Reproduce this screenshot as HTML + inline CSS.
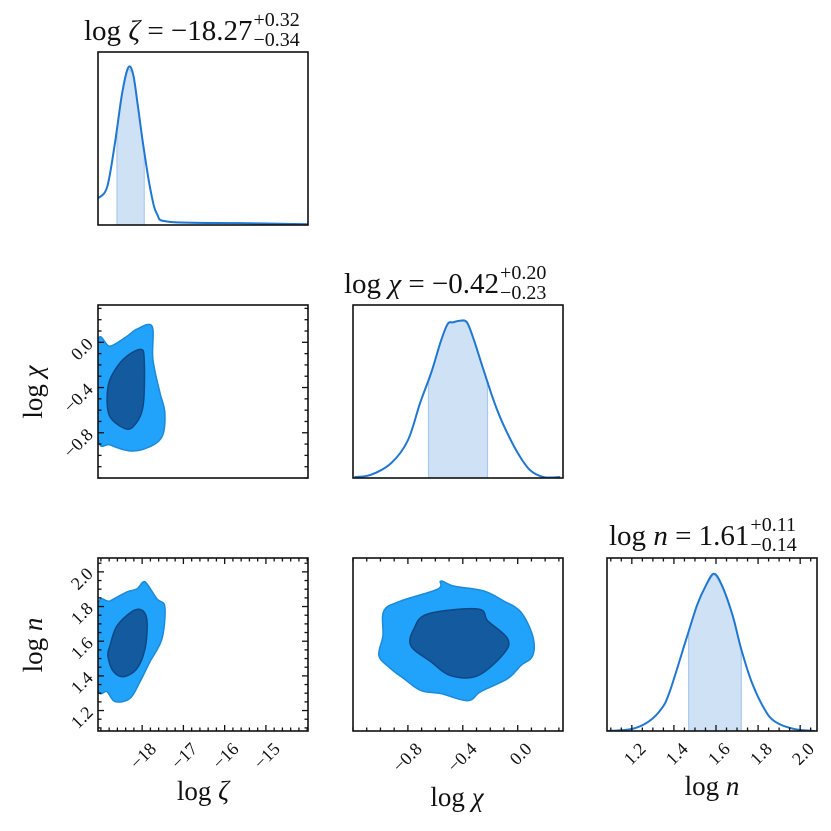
<!DOCTYPE html>
<html><head><meta charset="utf-8"><style>
html,body{margin:0;padding:0;background:#fff;}
svg{display:block;font-family:"Liberation Serif","DejaVu Serif",serif;}
</style></head><body>
<svg id="fig" width="831" height="831" viewBox="0 0 831 831" xmlns="http://www.w3.org/2000/svg"></svg>
<script>
// ---- data ----
const zetaGrid = [-19.07,-18.85,-18.66,-18.49,-18.34,-18.22,-18.10,-17.98,-17.81,-17.64,-17.33,-15.63,-13.98];
const zetaDens = [0.17,0.24,0.52,0.83,1.0,0.96,0.75,0.52,0.24,0.07,0.02,0.012,0.005];
const zetaCI = [-18.61,-17.95];
const chiGrid = [-1.19,-1.07,-0.92,-0.80,-0.71,-0.63,-0.56,-0.51,-0.47,-0.42,-0.37,-0.32,-0.25,-0.17,-0.10,0.0,0.09,0.19,0.31];
const chiDens = [0.006,0.02,0.096,0.24,0.48,0.67,0.87,0.98,0.99,1.0,0.99,0.88,0.69,0.48,0.33,0.16,0.05,0.006,0.006];
const chiCI = [-0.65,-0.22];
const nGrid = [1.08,1.2,1.28,1.34,1.38,1.46,1.51,1.55,1.59,1.63,1.68,1.72,1.77,1.83,1.88,1.97,2.07];
const nDens = [0.0,0.013,0.06,0.14,0.25,0.59,0.80,0.92,1.0,0.92,0.73,0.52,0.31,0.14,0.06,0.013,0.0];
const nCI = [1.47,1.72];
// contours (x values, y values)
const zcOuterX = [-19.07,-18.78,-18.37,-18.13,-17.76,-17.74,-17.57,-17.45,-17.52,-17.88,-18.30,-18.78,-19.07];
const zcOuterY = [0.0,-0.035,0.053,0.116,0.142,-0.151,-0.444,-0.622,-0.836,-0.933,-0.960,-0.907,-0.836];
const zcInnerX = [-18.78,-18.46,-18.05,-17.95,-17.98,-18.22,-18.46,-18.78,-18.85];
const zcInnerY = [-0.329,-0.151,-0.062,-0.151,-0.569,-0.747,-0.756,-0.658,-0.507];
const znOuterX = [-19.07,-18.78,-18.37,-18.13,-17.98,-17.88,-17.64,-17.45,-17.52,-17.81,-18.05,-18.30,-18.66,-18.85,-19.07];
const znOuterY = [1.803,1.832,1.884,1.901,1.941,1.930,1.844,1.798,1.614,1.482,1.367,1.269,1.252,1.309,1.338];
const znInnerX = [-18.78,-18.61,-18.22,-17.98,-17.88,-17.93,-18.13,-18.46,-18.71,-18.83];
const znInnerY = [1.574,1.688,1.775,1.775,1.711,1.556,1.441,1.395,1.430,1.516];
const cnOuterX = [-0.975,-0.851,-0.582,-0.560,-0.465,-0.247,-0.102,0.022,0.109,0.109,0.022,-0.073,-0.269,-0.364,-0.560,-0.705,-0.829,-0.924,-1.011,-0.982];
const cnOuterY = [1.775,1.832,1.901,1.947,1.918,1.890,1.832,1.769,1.631,1.516,1.459,1.384,1.309,1.257,1.298,1.315,1.384,1.441,1.516,1.631];
const cnInnerX = [-0.756,-0.655,-0.291,-0.218,-0.073,-0.102,-0.291,-0.487,-0.633,-0.778];
const cnInnerY = [1.671,1.757,1.786,1.717,1.614,1.528,1.401,1.401,1.482,1.573];
const zetaTicks = [-18,-17,-16,-15];
const zetaTickLabels = ["\u221218","\u221217","\u221216","\u221215"];
const chiTicks = [-0.8,-0.4,0.0];
const chiTickLabels = ["\u22120.8","\u22120.4","0.0"];
const nTicks = [1.2,1.4,1.6,1.8,2.0];
const nTickLabels = ["1.2","1.4","1.6","1.8","2.0"];

// ---- layout ----
const svg = document.getElementById('fig');
const NS = 'http://www.w3.org/2000/svg';
const cols = [98,353,607], W = 210;
const rows = [52,305,558], H = 173;
const zR=[-19.07,-13.98], cR=[-1.2,0.33], nR=[1.082,2.08];
function sc(r,a,b){return v=>a+(v-r[0])/(r[1]-r[0])*(b-a);}
function el(tag,attrs,parent){const e=document.createElementNS(NS,tag);for(const k in attrs)e.setAttribute(k,attrs[k]);(parent||svg).appendChild(e);return e;}
function smooth(pts){
  const n=pts.length;let d='M'+pts[0][0]+','+pts[0][1];
  for(let i=0;i<n;i++){const p0=pts[(i-1+n)%n],p1=pts[i],p2=pts[(i+1)%n],p3=pts[(i+2)%n];
    d+=' C'+(p1[0]+(p2[0]-p0[0])/6)+','+(p1[1]+(p2[1]-p0[1])/6)+' '+(p2[0]-(p3[0]-p1[0])/6)+','+(p2[1]-(p3[1]-p1[1])/6)+' '+p2[0]+','+p2[1];}
  return d+'Z';
}
function smoothOpen(pts){
  const n=pts.length;let d='M'+pts[0][0]+','+pts[0][1];
  for(let i=0;i<n-1;i++){const p0=pts[Math.max(i-1,0)],p1=pts[i],p2=pts[i+1],p3=pts[Math.min(i+2,n-1)];
    d+=' C'+(p1[0]+(p2[0]-p0[0])/6)+','+(p1[1]+(p2[1]-p0[1])/6)+' '+(p2[0]-(p3[0]-p1[0])/6)+','+(p2[1]-(p3[1]-p1[1])/6)+' '+p2[0]+','+p2[1];}
  return d;
}
function interp(xs,ys,x){for(let i=0;i<xs.length-1;i++){if(x>=xs[i]&&x<=xs[i+1]){const t=(x-xs[i])/(xs[i+1]-xs[i]);return ys[i]+t*(ys[i+1]-ys[i]);}}return 0;}

function panel(name,c,r){
  const g=el('g',{});
  
  
  const clip=el('clipPath',{id:'clip-'+name},g);
  el('rect',{x:cols[c],y:rows[r],width:W,height:H},clip);
  const inner=el('g',{'clip-path':'url(#clip-'+name+')'},g);
  return {g,inner,x0:cols[c],x1:cols[c]+W,y0:rows[r],y1:rows[r]+H};
}
function frame(p){const f=el('rect',{x:p.x0,y:p.y0,width:W,height:H,fill:'none',stroke:'#111','stroke-width':1.6},p.g);
  }

function hist(name,c,r,R,grid,dens,ci){
  const p=panel(name,c,r);
  const xs=sc(R,p.x0,p.x1), ys=v=>p.y1-v*(H/1.1);
  const sp=[];const N=30;
  for(let i=0;i<=N;i++){const x=ci[0]+(ci[1]-ci[0])*i/N;sp.push([xs(x),ys(interp(grid,dens,x))]);}
  let d='M'+xs(ci[0])+','+p.y1;sp.forEach(q=>d+=' L'+q[0]+','+q[1]);d+=' L'+xs(ci[1])+','+p.y1+'Z';
  const s=el('path',{d,fill:'#cfe1f4',stroke:'#a9c9ec','stroke-width':1.2},p.inner);
  
  const pts=grid.map((x,i)=>[xs(x),ys(dens[i])]);
  const l=el('path',{d:smoothOpen(pts),fill:'none',stroke:'#1f77d2','stroke-width':2},p.inner);
  
  frame(p);return p;
}
function contour(name,c,r,RX,RY,ox,oy,ix,iy){
  const p=panel(name,c,r);
  const xs=sc(RX,p.x0,p.x1), ys=sc(RY,p.y1,p.y0);
  const o=el('path',{d:smooth(ox.map((x,i)=>[xs(x),ys(oy[i])])),fill:'#22a3fb',stroke:'#1b8ad8','stroke-width':1.5},p.inner);
  
  const n=el('path',{d:smooth(ix.map((x,i)=>[xs(x),ys(iy[i])])),fill:'#135a9f',stroke:'#0e4884','stroke-width':1.5},p.inner);
  
  frame(p);return p;
}
function ticks(p,axis,R,major,minorStep,sides){
  const g=el('g',{stroke:'#111','stroke-width':1.3},p.g);
  
  const s= axis==='x'?sc(R,p.x0,p.x1):sc(R,p.y1,p.y0);
  const lo=Math.ceil(R[0]/minorStep-1e-6),hi=Math.floor(R[1]/minorStep+1e-6);
  for(let k=lo;k<=hi;k++){const v=k*minorStep;const isMaj=major.some(m=>Math.abs(m-v)<1e-6);const L=isMaj?6:3.5;const q=s(v);
    sides.forEach(sd=>{
      if(axis==='x'){const y=sd==='b'?p.y1:p.y0;el('line',{x1:q,x2:q,y1:y,y2:sd==='b'?y-L:y+L},g);}
      else{const x=sd==='l'?p.x0:p.x1;el('line',{y1:q,y2:q,x1:x,x2:sd==='l'?x+L:x-L},g);}
    });}
}
function xLabels(p,R,vals,labs,name){
  const s=sc(R,p.x0,p.x1);
  vals.forEach((v,i)=>{const x=s(v)+6,y=p.y1+10;
    const t=el('text',{x:0,y:0,transform:`translate(${x},${y}) rotate(-45)`,'text-anchor':'end','dominant-baseline':'hanging','font-size':18,fill:'#111'});
    t.textContent=labs[i];});
}
function yLabels(p,R,vals,labs,name){
  const s=sc(R,p.y1,p.y0);
  vals.forEach((v,i)=>{const x=p.x0-4,y=s(v)+3;
    const t=el('text',{x:0,y:0,transform:`translate(${x},${y}) rotate(-45)`,'text-anchor':'end','font-size':18,fill:'#111'});
    t.textContent=labs[i];});
}
function label(sym,x,y,rot,name){
  const t=el('text',{x:0,y:0,transform:`translate(${x},${y}) rotate(${rot})`,'text-anchor':'middle','font-size':27,fill:'#111'});
  
  const a=el('tspan',{},t);a.textContent='log ';const b=el('tspan',{'font-style':'italic'},t);b.textContent=sym;
}
function title(x,y,sym,val,up,dn,name){
  const t=el('text',{x,y,'font-size':29,fill:'#111'});
  
  const a=el('tspan',{},t);a.textContent='log ';
  const b=el('tspan',{'font-style':'italic'},t);b.textContent=sym;
  const c=el('tspan',{},t);c.textContent=' = '+val;
  const w=t.getComputedTextLength();
  const u=el('text',{x:x+w+1,y:y-14,'font-size':20,fill:'#111'});u.textContent=up;
  
  const d=el('text',{x:x+w+1,y:y+6,'font-size':20,fill:'#111'});d.textContent=dn;
  
}

const h1=hist('hist-log-zeta',0,0,zR,zetaGrid,zetaDens,zetaCI);
const h2=hist('hist-log-chi',1,1,cR,chiGrid,chiDens,chiCI);
const h3=hist('hist-log-n',2,2,nR,nGrid,nDens,nCI);
ticks(h3,'x',nR,nTicks,0.05,['b','t']);
xLabels(h3,nR,nTicks,nTickLabels,'log-n-x');

const c1=contour('contour-zeta-chi',0,1,zR,cR,zcOuterX,zcOuterY,zcInnerX,zcInnerY);
ticks(c1,'y',cR,chiTicks,0.1,['l','r']);
yLabels(c1,cR,chiTicks,chiTickLabels,'log-chi-y');

const c2=contour('contour-zeta-n',0,2,zR,nR,znOuterX,znOuterY,znInnerX,znInnerY);
ticks(c2,'x',zR,zetaTicks,0.2,['b','t']);
ticks(c2,'y',nR,nTicks,0.05,['l','r']);
xLabels(c2,zR,zetaTicks,zetaTickLabels,'log-zeta-x');
yLabels(c2,nR,nTicks,nTickLabels,'log-n-y');

const c3=contour('contour-chi-n',1,2,cR,nR,cnOuterX,cnOuterY,cnInnerX,cnInnerY);
ticks(c3,'x',cR,chiTicks,0.1,['b','t']);
xLabels(c3,cR,chiTicks,chiTickLabels,'log-chi-x');

label('\u03b6',203,800,0,'x-axis-title-zeta');
label('\u03c7',457,806,0,'x-axis-title-chi');
label('n',712,795,0,'x-axis-title-n');
label('\u03c7',42,392,-90,'y-axis-title-chi');
label('n',42,645,-90,'y-axis-title-n');

title(84,40,'\u03b6','\u221218.27','+0.32','\u22120.34','title-zeta');
title(344,293,'\u03c7','\u22120.42','+0.20','\u22120.23','title-chi');
title(609,545,'n','1.61','+0.11','\u22120.14','title-n');
</script>
</body></html>
